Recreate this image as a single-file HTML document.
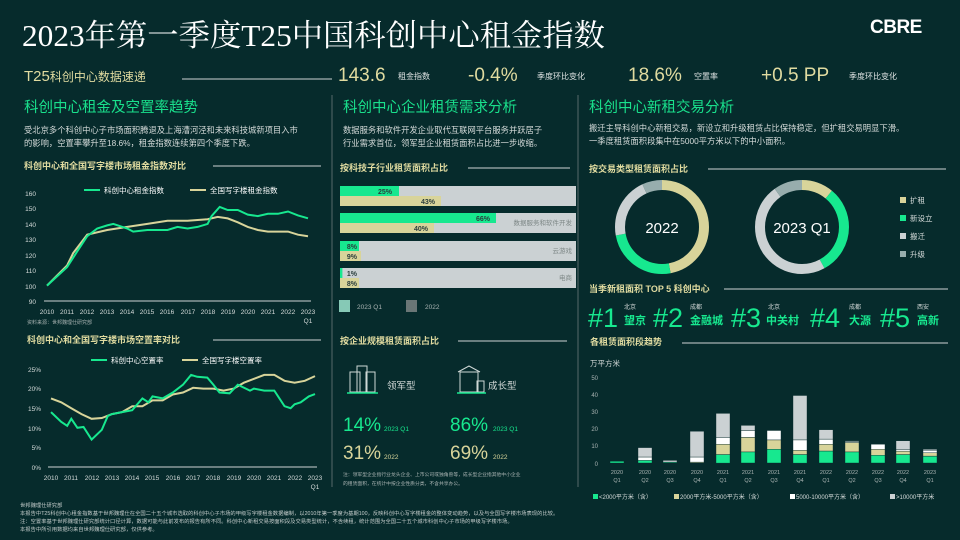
<!DOCTYPE html>
<html><head><meta charset="utf-8"><style>
html,body{margin:0;padding:0;background:#062b2c;}
svg{display:block}
text{font-family:"Liberation Sans","Noto Sans CJK SC",sans-serif;}
</style></head><body>
<svg width="960" height="540" viewBox="0 0 960 540" xmlns="http://www.w3.org/2000/svg">
<rect width="960" height="540" fill="#062b2c"/>
<!-- Header -->
<text x="22" y="46" font-size="30.5" fill="#ffffff" style="font-family:'Liberation Serif','Noto Serif CJK SC',serif" textLength="583" lengthAdjust="spacingAndGlyphs">2023年第一季度T25中国科创中心租金指数</text>
<text x="870" y="33" font-size="19" font-weight="bold" fill="#ffffff" letter-spacing="-0.5">CBRE</text>
<text x="24" y="81" font-size="15" fill="#e0dba0">T25<tspan font-size="12">科创中心数据速递</tspan></text>
<line x1="182" y1="79" x2="332" y2="79" stroke="#cfd3d3" stroke-width="1"/>
<text x="338" y="81" font-size="19" fill="#e0dba0">143.6</text>
<text x="398" y="79" font-size="8" fill="#e0e4e4">租金指数</text>
<text x="468" y="81" font-size="19" fill="#e0dba0">-0.4%</text>
<text x="537" y="79" font-size="8" fill="#e0e4e4">季度环比变化</text>
<text x="628" y="81" font-size="19" fill="#e0dba0">18.6%</text>
<text x="694" y="79" font-size="8" fill="#e0e4e4">空置率</text>
<text x="761" y="81" font-size="19" fill="#e0dba0">+0.5 PP</text>
<text x="849" y="79" font-size="8" fill="#e0e4e4">季度环比变化</text>

<!-- separators -->
<line x1="332" y1="95" x2="332" y2="487" stroke="#56696a" stroke-width="1"/>
<line x1="578" y1="95" x2="578" y2="487" stroke="#56696a" stroke-width="1"/>

<!-- Column 1 -->
<text x="24" y="112" font-size="14.5" fill="#19e08c">科创中心租金及空置率趋势</text>
<text x="24" y="133" font-size="8.3" fill="#d4dad9">受北京多个科创中心子市场面积腾退及上海漕河泾和未来科技城新项目入市</text>
<text x="24" y="146" font-size="8.3" fill="#d4dad9">的影响，空置率攀升至18.6%，租金指数连续第四个季度下跌。</text>
<text x="24" y="169" font-size="9" font-weight="bold" fill="#e0dba0">科创中心和全国写字楼市场租金指数对比</text>
<line x1="213" y1="166" x2="321" y2="166" stroke="#cfd3d3"/>
<line x1="84" y1="190" x2="100" y2="190" stroke="#17e88f" stroke-width="2"/>
<text x="104" y="193" font-size="7.5" fill="#ffffff">科创中心租金指数</text>
<line x1="190" y1="190" x2="206" y2="190" stroke="#d8d49a" stroke-width="2"/>
<text x="210" y="193" font-size="7.5" fill="#ffffff">全国写字楼租金指数</text>
<g font-size="6.5" fill="#d4dad9" text-anchor="end">
<text x="36" y="196">160</text><text x="36" y="211">150</text><text x="36" y="227">140</text><text x="36" y="242">130</text><text x="36" y="258">120</text><text x="36" y="273">110</text><text x="36" y="289">100</text><text x="36" y="304">90</text>
</g>
<line x1="44" y1="301" x2="311" y2="301" stroke="#cfd3d3" stroke-width="1"/>
<g font-size="6.5" fill="#d4dad9" text-anchor="middle">
<text x="47" y="314">2010</text><text x="67" y="314">2011</text><text x="87" y="314">2012</text><text x="107" y="314">2013</text><text x="127" y="314">2014</text><text x="147" y="314">2015</text><text x="167" y="314">2016</text><text x="188" y="314">2017</text><text x="208" y="314">2018</text><text x="228" y="314">2019</text><text x="248" y="314">2020</text><text x="268" y="314">2021</text><text x="288" y="314">2022</text><text x="308" y="314">2023</text><text x="308" y="323">Q1</text>
</g>
<text x="27" y="324" font-size="5" fill="#a9b3b2">资料来源：世邦魏理仕研究部</text>
<polyline fill="none" stroke="#d8d49a" stroke-width="2" points="47,285.6 67.1,265.5 73.1,253.2 87.2,234.7 107.2,230 127.3,226.9 147.4,223.9 167.5,220.8 187.6,220.8 207.6,219.2 217.7,216.9 227.7,218.4 237.8,222.3 247.8,226.9 257.8,230 267.9,231.6 288,231.6 298,234.7 308,236.2"/>
<polyline fill="none" stroke="#17e88f" stroke-width="2" points="47,285.6 67.1,267.1 77.1,251.6 87.2,236.2 97.2,228.5 107.2,225.4 113.3,223.9 127.3,228.5 133.2,231.6 147.4,230 167.5,230 177.5,226.9 187.6,228.5 197.6,226.9 207.6,223.9 211.6,216.1 219.7,206.9 227.7,210 237.8,210 247.8,214.6 257.8,216.1 267.9,213.8 277.9,213.8 288,211.5 298,215.4 308,218.3"/>

<text x="27" y="343" font-size="9" font-weight="bold" fill="#e0dba0">科创中心和全国写字楼市场空置率对比</text>
<line x1="213" y1="340" x2="321" y2="340" stroke="#cfd3d3"/>
<line x1="91" y1="360" x2="107" y2="360" stroke="#17e88f" stroke-width="2"/>
<text x="111" y="363" font-size="7.5" fill="#ffffff">科创中心空置率</text>
<line x1="182" y1="360" x2="198" y2="360" stroke="#d8d49a" stroke-width="2"/>
<text x="202" y="363" font-size="7.5" fill="#ffffff">全国写字楼空置率</text>
<g font-size="6.5" fill="#d4dad9" text-anchor="end">
<text x="41" y="372">25%</text><text x="41" y="391">20%</text><text x="41" y="411">15%</text><text x="41" y="431">10%</text><text x="41" y="450">5%</text><text x="41" y="470">0%</text>
</g>
<line x1="48" y1="467" x2="317" y2="467" stroke="#cfd3d3" stroke-width="1"/>
<g font-size="6.5" fill="#d4dad9" text-anchor="middle">
<text x="51" y="480">2010</text><text x="71" y="480">2011</text><text x="92" y="480">2012</text><text x="112" y="480">2013</text><text x="132" y="480">2014</text><text x="152" y="480">2015</text><text x="173" y="480">2016</text><text x="193" y="480">2017</text><text x="213" y="480">2018</text><text x="234" y="480">2019</text><text x="254" y="480">2020</text><text x="274" y="480">2021</text><text x="295" y="480">2022</text><text x="315" y="480">2023</text><text x="315" y="489">Q1</text>
</g>
<polyline fill="none" stroke="#d8d49a" stroke-width="2" points="51,398.4 61.2,402.3 71.3,408.2 81.5,414.1 91.6,418.8 101.8,418 111.9,414.1 122.1,412.1 132.2,406.2 142.4,406.2 152.5,400.4 162.7,400.4 172.8,394.5 183,392.5 193.1,387.8 203.3,388.6 213.4,388.6 223.6,390.6 233.7,388.6 243.9,382.7 254,378.8 264.2,374.9 274.3,374.9 284.5,380.8 294.6,382.7 304.8,380.8 315,376.1"/>
<polyline fill="none" stroke="#17e88f" stroke-width="2" points="51,412.1 61.2,421.9 67.2,425.8 71.3,418.8 77.4,427.8 83.5,427 91.6,439.6 101.8,429.8 107.8,416 111.9,414.1 122.1,412.1 132.2,410.2 142.4,398.4 148.4,402.3 152.5,396.4 162.7,398.4 172.8,392.5 183,384.7 191.1,374.9 197.2,376.8 207.3,377.6 213.4,384.7 219.5,392.5 229.6,393.3 237.8,384.7 250,390.6 254,388.6 264.2,390.6 274.3,390.6 284.5,406.2 290.6,408.2 294.6,404.3 300.7,402.3 308.8,396.4 315,394.1"/>

<!-- Column 2 -->
<text x="343" y="112" font-size="14.5" fill="#19e08c">科创中心企业租赁需求分析</text>
<text x="343" y="133" font-size="8.3" fill="#d4dad9">数据服务和软件开发企业取代互联网平台服务并跃居子</text>
<text x="343" y="146" font-size="8.3" fill="#d4dad9">行业需求首位，领军型企业租赁面积占比进一步收缩。</text>
<text x="340" y="171" font-size="9" font-weight="bold" fill="#e0dba0">按科技子行业租赁面积占比</text>
<line x1="468" y1="168" x2="570" y2="168" stroke="#cfd3d3"/>
<g>
<rect x="340" y="186" width="236" height="20" fill="#cbd1d3"/>
<rect x="340" y="186" width="59" height="10" fill="#17e88f"/><rect x="340" y="196" width="101" height="10" fill="#d8d49a"/>
<rect x="340" y="213" width="236" height="20" fill="#cbd1d3"/>
<rect x="340" y="213" width="156" height="10" fill="#17e88f"/><rect x="340" y="223" width="94" height="10" fill="#d8d49a"/>
<rect x="340" y="241" width="236" height="20" fill="#cbd1d3"/>
<rect x="340" y="241" width="19" height="10" fill="#17e88f"/><rect x="340" y="251" width="21" height="10" fill="#d8d49a"/>
<rect x="340" y="268" width="236" height="20" fill="#cbd1d3"/>
<rect x="340" y="268" width="2.4" height="10" fill="#17e88f"/><rect x="340" y="278" width="19" height="10" fill="#d8d49a"/>
</g>
<g font-size="7" font-weight="bold" fill="#2a3e3d" text-anchor="end">
<text x="392" y="194">25%</text><text x="435" y="204">43%</text>
<text x="490" y="221">66%</text><text x="428" y="231">40%</text>
<text x="357" y="249">8%</text><text x="357" y="259">9%</text>
<text x="357" y="276">1%</text><text x="357" y="286">8%</text>
</g>
<g font-size="6.5" fill="#7d8786" text-anchor="end">
<text x="572" y="225">数据服务和软件开发</text><text x="572" y="253">云游戏</text><text x="572" y="280">电商</text>
</g>
<rect x="339" y="300" width="11" height="12" fill="#86c9b6"/>
<text x="357" y="309" font-size="6.5" fill="#a9b3b2">2023 Q1</text>
<rect x="406" y="300" width="11" height="12" fill="#6a7676"/>
<text x="425" y="309" font-size="6.5" fill="#a9b3b2">2022</text>

<text x="340" y="344" font-size="9" font-weight="bold" fill="#e0dba0">按企业规模租赁面积占比</text>
<line x1="458" y1="341" x2="567" y2="341" stroke="#cfd3d3"/>
<g stroke="#cfd8d6" stroke-width="1" fill="none">
<rect x="350" y="372" width="10" height="20"/><rect x="357" y="366" width="10" height="26"/><rect x="366" y="372" width="9" height="20"/>
<rect x="460" y="372" width="18" height="20"/><path d="M458 372 L469 366 L480 372"/><rect x="477" y="381" width="7" height="11"/>
</g>
<line x1="347" y1="393" x2="378" y2="393" stroke="#17e88f" stroke-width="1.5"/>
<line x1="457" y1="393" x2="486" y2="393" stroke="#17e88f" stroke-width="1.5"/>
<text x="387" y="389" font-size="9.5" fill="#d4dad9">领军型</text>
<text x="488" y="389" font-size="9.5" fill="#d4dad9">成长型</text>
<text x="343" y="431" font-size="19" fill="#17e88f">14%</text>
<text x="384" y="431" font-size="6.5" fill="#17e88f">2023 Q1</text>
<text x="343" y="459" font-size="19" fill="#d8d49a">31%</text>
<text x="384" y="459" font-size="6.5" fill="#d8d49a">2022</text>
<text x="450" y="431" font-size="19" fill="#17e88f">86%</text>
<text x="493" y="431" font-size="6.5" fill="#17e88f">2023 Q1</text>
<text x="450" y="459" font-size="19" fill="#d8d49a">69%</text>
<text x="493" y="459" font-size="6.5" fill="#d8d49a">2022</text>
<text x="343" y="476" font-size="4.8" fill="#a9b3b2">注：领军型企业指行业龙头企业、上市公司或独角兽等，成长型企业指其他中小企业</text>
<text x="343" y="485" font-size="4.8" fill="#a9b3b2">的租赁面积，在统计中按企业性质分类，不含共享办公。</text>

<!-- Column 3 -->
<text x="589" y="112" font-size="14.5" fill="#19e08c">科创中心新租交易分析</text>
<text x="589" y="131" font-size="8.3" fill="#d4dad9">搬迁主导科创中心新租交易，新设立和升级租赁占比保持稳定，但扩租交易明显下滑。</text>
<text x="589" y="144" font-size="8.3" fill="#d4dad9">一季度租赁面积段集中在5000平方米以下的中小面积。</text>
<text x="589" y="172" font-size="9" font-weight="bold" fill="#e0dba0">按交易类型租赁面积占比</text>
<line x1="708" y1="169" x2="946" y2="169" stroke="#cfd3d3"/>
<g fill="none" stroke-width="10" transform="rotate(-90 662 227)">
<circle cx="662" cy="227" r="42" stroke="#d8d49a" stroke-dasharray="124 264" stroke-dashoffset="0"/>
<circle cx="662" cy="227" r="42" stroke="#17e88f" stroke-dasharray="66 264" stroke-dashoffset="-124"/>
<circle cx="662" cy="227" r="42" stroke="#cbd1d3" stroke-dasharray="55.4 264" stroke-dashoffset="-190"/>
<circle cx="662" cy="227" r="42" stroke="#97adad" stroke-dasharray="18.5 264" stroke-dashoffset="-245.4"/>
</g>
<g fill="none" stroke-width="10" transform="rotate(-90 802 227)">
<circle cx="802" cy="227" r="42" stroke="#d8d49a" stroke-dasharray="29 264" stroke-dashoffset="0"/>
<circle cx="802" cy="227" r="42" stroke="#17e88f" stroke-dasharray="81.8 264" stroke-dashoffset="-29"/>
<circle cx="802" cy="227" r="42" stroke="#cbd1d3" stroke-dasharray="126.7 264" stroke-dashoffset="-110.8"/>
<circle cx="802" cy="227" r="42" stroke="#97adad" stroke-dasharray="26.4 264" stroke-dashoffset="-237.5"/>
</g>
<text x="662" y="233" font-size="15" fill="#ffffff" text-anchor="middle">2022</text>
<text x="802" y="233" font-size="15" fill="#ffffff" text-anchor="middle">2023 Q1</text>
<g font-size="7.5" fill="#d4dad9">
<rect x="900" y="197" width="6" height="6" fill="#d8d49a"/><text x="910" y="203">扩租</text>
<rect x="900" y="215" width="6" height="6" fill="#17e88f"/><text x="910" y="221">新设立</text>
<rect x="900" y="233" width="6" height="6" fill="#cbd1d3"/><text x="910" y="239">搬迁</text>
<rect x="900" y="251" width="6" height="6" fill="#97adad"/><text x="910" y="257">升级</text>
</g>
<text x="589" y="292" font-size="9" font-weight="bold" fill="#e0dba0">当季新租面积 TOP 5 科创中心</text>
<line x1="724" y1="289" x2="948" y2="289" stroke="#cfd3d3"/>
<g fill="#17e88f">
<text x="588" y="327" font-size="27">#1</text>
<text x="624" y="309" font-size="6" fill="#d4dad9">北京</text><text x="624" y="324" font-size="11" font-weight="bold">望京</text>
<text x="653" y="327" font-size="27">#2</text>
<text x="690" y="309" font-size="6" fill="#d4dad9">成都</text><text x="690" y="324" font-size="11" font-weight="bold">金融城</text>
<text x="731" y="327" font-size="27">#3</text>
<text x="768" y="309" font-size="6" fill="#d4dad9">北京</text><text x="766" y="324" font-size="11" font-weight="bold">中关村</text>
<text x="810" y="327" font-size="27">#4</text>
<text x="849" y="309" font-size="6" fill="#d4dad9">成都</text><text x="849" y="324" font-size="11" font-weight="bold">大源</text>
<text x="880" y="327" font-size="27">#5</text>
<text x="917" y="309" font-size="6" fill="#d4dad9">西安</text><text x="917" y="324" font-size="11" font-weight="bold">高新</text>
</g>
<text x="590" y="345" font-size="9" font-weight="bold" fill="#e0dba0">各租赁面积段趋势</text>
<line x1="682" y1="343" x2="948" y2="343" stroke="#cfd3d3"/>
<text x="590" y="366" font-size="7.5" fill="#d4dad9">万平方米</text>
<g font-size="6" fill="#a9b3b2" text-anchor="end">
<text x="598" y="380">50</text><text x="598" y="397">40</text><text x="598" y="414">30</text><text x="598" y="431">20</text><text x="598" y="448">10</text><text x="598" y="466">0</text>
</g>
<g stroke="#062b2c" stroke-width="0.4">
<rect x="610" y="461.3" width="14" height="1.7" fill="#17e88f"/>
<rect x="638" y="460.4" width="14" height="2.6" fill="#17e88f"/><rect x="638" y="457" width="14" height="3.4" fill="#fff"/><rect x="638" y="447.6" width="14" height="9.4" fill="#cbd1d3"/>
<rect x="663" y="462.1" width="14" height="0.9" fill="#17e88f"/><rect x="663" y="460.4" width="14" height="1.7" fill="#cbd1d3"/>
<rect x="690" y="462.1" width="14" height="0.9" fill="#d8d49a"/><rect x="690" y="457" width="14" height="5.1" fill="#fff"/><rect x="690" y="431.3" width="14" height="25.7" fill="#cbd1d3"/>
<rect x="716" y="454.5" width="14" height="8.6" fill="#17e88f"/><rect x="716" y="444.2" width="14" height="10.3" fill="#d8d49a"/><rect x="716" y="437.4" width="14" height="6.8" fill="#fff"/><rect x="716" y="413.4" width="14" height="24" fill="#cbd1d3"/>
<rect x="741" y="451.9" width="14" height="11.1" fill="#17e88f"/><rect x="741" y="437.4" width="14" height="14.5" fill="#d8d49a"/><rect x="741" y="430.5" width="14" height="6.8" fill="#fff"/><rect x="741" y="425.4" width="14" height="5.1" fill="#cbd1d3"/>
<rect x="767" y="449.3" width="14" height="13.7" fill="#17e88f"/><rect x="767" y="439.9" width="14" height="9.4" fill="#d8d49a"/><rect x="767" y="430.5" width="14" height="9.4" fill="#fff"/>
<rect x="793" y="454.5" width="14" height="8.6" fill="#17e88f"/><rect x="793" y="450.2" width="14" height="4.3" fill="#d8d49a"/><rect x="793" y="439.9" width="14" height="10.3" fill="#fff"/><rect x="793" y="395.5" width="14" height="44.4" fill="#cbd1d3"/>
<rect x="819" y="451" width="14" height="12" fill="#17e88f"/><rect x="819" y="444.2" width="14" height="6.8" fill="#d8d49a"/><rect x="819" y="439.1" width="14" height="5.1" fill="#fff"/><rect x="819" y="429.7" width="14" height="9.4" fill="#cbd1d3"/>
<rect x="845" y="451.9" width="14" height="11.1" fill="#17e88f"/><rect x="845" y="442.5" width="14" height="9.4" fill="#d8d49a"/><rect x="845" y="441.6" width="14" height="0.9" fill="#fff"/><rect x="845" y="440.7" width="14" height="0.9" fill="#cbd1d3"/>
<rect x="871" y="455.3" width="14" height="7.7" fill="#17e88f"/><rect x="871" y="449.3" width="14" height="6" fill="#d8d49a"/><rect x="871" y="444.2" width="14" height="5.1" fill="#fff"/>
<rect x="896" y="454.5" width="14" height="8.6" fill="#17e88f"/><rect x="896" y="451.1" width="14" height="3.4" fill="#d8d49a"/><rect x="896" y="449.4" width="14" height="1.7" fill="#fff"/><rect x="896" y="440.8" width="14" height="8.6" fill="#cbd1d3"/>
<rect x="923" y="456.2" width="14" height="6.8" fill="#17e88f"/><rect x="923" y="452.7" width="14" height="3.4" fill="#d8d49a"/><rect x="923" y="450.2" width="14" height="2.6" fill="#fff"/><rect x="923" y="449.3" width="14" height="0.9" fill="#cbd1d3"/>
</g>
<g font-size="5.5" fill="#a9b3b2" text-anchor="middle">
<text x="617" y="474">2020</text><text x="617" y="482">Q1</text>
<text x="645" y="474">2020</text><text x="645" y="482">Q2</text>
<text x="670" y="474">2020</text><text x="670" y="482">Q3</text>
<text x="697" y="474">2020</text><text x="697" y="482">Q4</text>
<text x="723" y="474">2021</text><text x="723" y="482">Q1</text>
<text x="748" y="474">2021</text><text x="748" y="482">Q2</text>
<text x="774" y="474">2021</text><text x="774" y="482">Q3</text>
<text x="800" y="474">2021</text><text x="800" y="482">Q4</text>
<text x="826" y="474">2022</text><text x="826" y="482">Q1</text>
<text x="852" y="474">2022</text><text x="852" y="482">Q2</text>
<text x="878" y="474">2022</text><text x="878" y="482">Q3</text>
<text x="903" y="474">2022</text><text x="903" y="482">Q4</text>
<text x="930" y="474">2023</text><text x="930" y="482">Q1</text>
</g>
<g font-size="6" fill="#d4dad9">
<rect x="593" y="494" width="5" height="5" fill="#17e88f"/><text x="599" y="499">&lt;2000平方米（含）</text>
<rect x="674" y="494" width="5" height="5" fill="#d8d49a"/><text x="680" y="499">2000平方米-5000平方米（含）</text>
<rect x="790" y="494" width="5" height="5" fill="#fff"/><text x="796" y="499">5000-10000平方米（含）</text>
<rect x="890" y="494" width="5" height="5" fill="#cbd1d3"/><text x="896" y="499">&gt;10000平方米</text>
</g>

<!-- Footnote -->
<g font-size="5.3" fill="#c4cccb">
<text x="20" y="507">世邦魏理仕研究部</text>
<text x="20" y="515">本报告中T25科创中心租金指数基于世邦魏理仕在全国二十五个城市选取的科创中心子市场的甲级写字楼租金数据编制，以2010年第一季度为基期100，反映科创中心写字楼租金的整体变动趋势，以及与全国写字楼市场表现的比较。</text>
<text x="20" y="523">注：空置率基于世邦魏理仕研究部统计口径计算，数据可能与此前发布的报告有所不同。科创中心新租交易按面积段及交易类型统计，不含续租，统计范围为全国二十五个城市科创中心子市场的甲级写字楼市场。</text>
<text x="20" y="531">本报告中所引用数据均来自世邦魏理仕研究部，仅供参考。</text>
</g>
</svg>
</body></html>
